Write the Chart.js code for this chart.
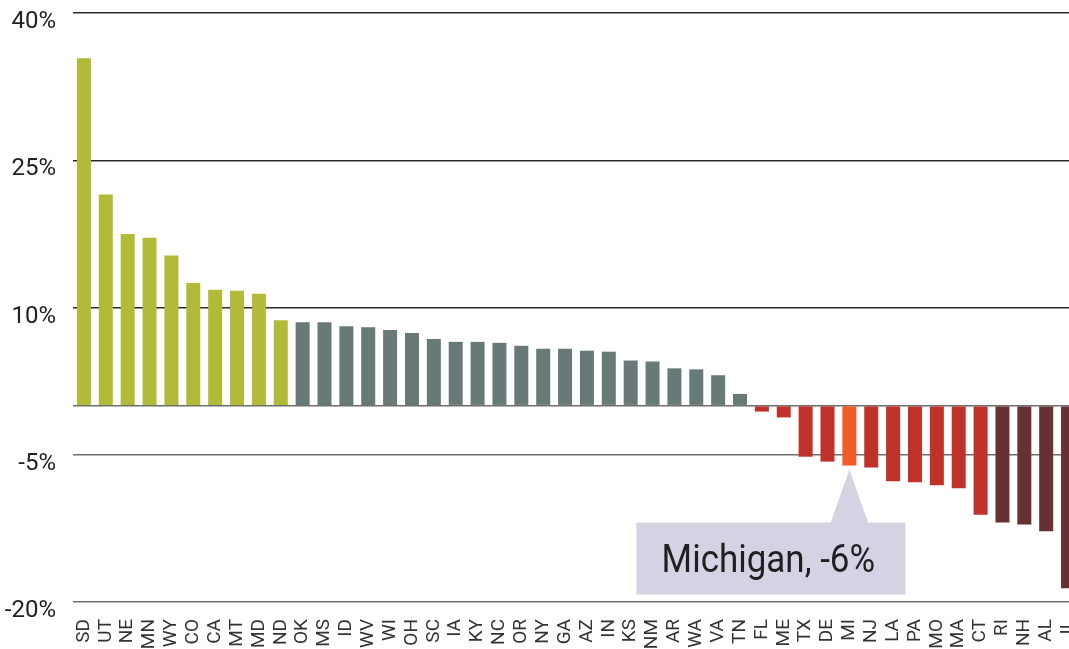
<!DOCTYPE html>
<html>
<head>
<meta charset="utf-8">
<script src="https://cdn.jsdelivr.net/npm/chart.js@4.4.1/dist/chart.umd.min.js"></script>
<style>
  html, body { margin: 0; padding: 0; background: #fff; overflow: hidden; }
  #wrap { width: 1079px; height: 649px; }
</style>
</head>
<body>
<div id="wrap"><canvas id="chart" width="1079" height="649"></canvas></div>
<script>
const states = ['SD', 'UT', 'NE', 'MN', 'WY', 'CO', 'CA', 'MT', 'MD', 'ND',
  'OK', 'MS', 'ID', 'WV', 'WI', 'OH', 'SC', 'IA', 'KY', 'NC', 'OR', 'NY', 'GA',
  'AZ', 'IN', 'KS', 'NM', 'AR', 'WA', 'VA', 'TN', 'FL', 'ME', 'TX', 'DE', 'MI',
  'NJ', 'LA', 'PA', 'MO', 'MA', 'CT', 'RI', 'NH', 'AL', 'IL'];
const changes = [35.4, 21.5, 17.5, 17.1, 15.3, 12.5, 11.8, 11.7, 11.4, 8.7,
  8.5, 8.5, 8.1, 8.0, 7.7, 7.4, 6.8, 6.5, 6.5, 6.4, 6.1, 5.8, 5.8,
  5.6, 5.5, 4.6, 4.5, 3.8, 3.7, 3.1, 1.2, -0.6, -1.2, -5.2, -5.7, -6.1,
  -6.3, -7.7, -7.8, -8.1, -8.4, -11.1, -11.9, -12.1, -12.8, -18.6];
const yTicks = [-20, -5, 10, 25, 40];
const highlight = 'MI';
const highlightLabel = 'Michigan, -6%';

const font = "Roboto, 'Liberation Sans', sans-serif";

function barColor(i) {
  const v = changes[i];
  if (states[i] === highlight) return '#f25c27';
  if (i < 10) return '#b1bb37';
  if (v >= 0) return '#677a78';
  if (v > -11.5) return '#c03129';
  return '#673133';
}

// drop the extra room chart.js reserves for overhanging labels
function noPad(s) {
  s.paddingLeft = 0;
  s.paddingRight = 0;
  s.paddingTop = 0;
  s.paddingBottom = 0;
}

const callout = {
  id: 'callout',
  afterDatasetsDraw(chart) {
    const idx = states.indexOf(highlight);
    const bar = chart.getDatasetMeta(0).data[idx];
    const ctx = chart.ctx;
    const x = bar.x;
    const top = bar.y + 57;
    ctx.save();
    ctx.fillStyle = '#d3d3e3';
    ctx.beginPath();
    ctx.moveTo(x, bar.y + 4);
    ctx.lineTo(x + 19, top + 1);
    ctx.lineTo(x - 19, top + 1);
    ctx.closePath();
    ctx.fill();
    ctx.fillRect(x - 213, top, 269, 72);
    ctx.fillStyle = '#231f20';
    ctx.font = '38px ' + font;
    ctx.textAlign = 'center';
    ctx.textBaseline = 'alphabetic';
    ctx.translate(x - 81, top + 49);
    ctx.scale(0.92, 1);
    ctx.fillText(highlightLabel, 0, 0);
    ctx.restore();
  }
};

new Chart(document.getElementById('chart'), {
  type: 'bar',
  data: {
    labels: states,
    datasets: [{
      data: changes,
      backgroundColor: states.map((s, i) => barColor(i)),
      barPercentage: 0.64,
      categoryPercentage: 1
    }]
  },
  options: {
    responsive: false,
    animation: false,
    layout: { padding: { top: 13, right: 0, left: 0, bottom: 0 } },
    plugins: { legend: { display: false }, tooltip: { enabled: false } },
    scales: {
      x: {
        grid: { display: false },
        border: { display: false },
        afterFit: (s) => { s.height = 47; noPad(s); },
        ticks: {
          autoSkip: false,
          minRotation: 90,
          maxRotation: 90,
          padding: 9,
          color: '#333',
          font: { family: font, size: 19 }
        }
      },
      y: {
        min: -20,
        max: 40,
        afterFit: (s) => { s.width = 73; noPad(s); },
        afterBuildTicks: (s) => {
          s.ticks = yTicks.concat([0]).sort((a, b) => a - b).map(v => ({ value: v }));
        },
        border: { display: false },
        grid: {
          drawTicks: false,
          color: (c) => c.tick.value >= 10 ? '#2b2b2b' : '#6e6e6e',
          lineWidth: 1.5
        },
        ticks: {
          padding: 17,
          labelOffset: 9,
          color: '#222',
          font: { family: font, size: 24 },
          callback: (v) => v === 0 ? '' : v + '%'
        }
      }
    }
  },
  plugins: [callout]
});
</script>
</body>
</html>
